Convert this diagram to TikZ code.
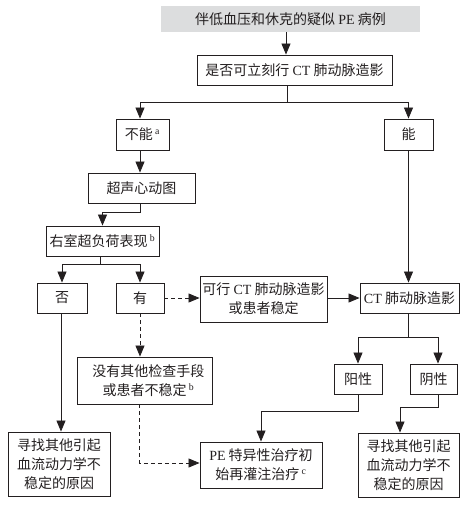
\documentclass[tikz,border=0pt]{standalone}
\usepackage{fontspec}
\setmainfont{Noto Sans CJK SC}
\newfontfamily\lat{Liberation Serif}
\usetikzlibrary{arrows.meta}
\definecolor{topgray}{RGB}{220,221,222}
\definecolor{ink}{RGB}{35,31,32}
\newcommand{\supl}[1]{\textsuperscript{\lat #1}}
\begin{document}
\begin{tikzpicture}[x=1pt,y=-1pt,
  box/.style={draw=ink,line width=0.9pt,inner sep=0pt,align=center,text=ink,
    font=\fontsize{14}{19}\selectfont},
  ln/.style={draw=ink,line width=0.8pt},
  arr/.style={ln,-{Triangle[length=11pt,width=9pt]}},
  darr/.style={arr,dash pattern=on 4pt off 3pt}]
\useasboundingbox (0,0) rectangle (470,507);
% nodes
\node[box,draw=none,fill=topgray,minimum width=259pt,minimum height=26pt] (top) at (290.5,19) {伴低血压和休克的疑似 {\lat PE} 病例};
\node[box,minimum width=195pt,minimum height=30pt] (q) at (294.5,70) {是否可立刻行 {\lat CT} 肺动脉造影};
\node[box,minimum width=53pt,minimum height=31pt] (no) at (142.5,134.5) {不能\,\supl{a}};
\node[box,minimum width=49pt,minimum height=31pt] (yes) at (408.5,134.5) {能};
\node[box,minimum width=107pt,minimum height=30pt] (echo) at (141.5,188) {超声心动图};
\node[box,minimum width=113pt,minimum height=30pt] (rv) at (102.5,241) {右室超负荷表现\,\supl{b}};
\node[box,minimum width=50pt,minimum height=30pt] (fou) at (62,298) {否};
\node[box,minimum width=48pt,minimum height=30pt] (you) at (140,298) {有};
\node[box,minimum width=127pt,minimum height=46pt] (kx) at (263.5,299) {可行 {\lat CT} 肺动脉造影\\或患者稳定};
\node[box,minimum width=99pt,minimum height=30pt] (ct) at (409.5,298) {{\lat CT} 肺动脉造影};
\node[box,minimum width=48pt,minimum height=30pt] (yang) at (358,379) {阳性};
\node[box,minimum width=47pt,minimum height=30pt] (yin) at (433.5,379) {阴性};
\node[box,minimum width=135pt,minimum height=47pt] (my) at (144.5,380.5) {\hspace*{8pt}没有其他检查手段\\\hspace*{8pt}或患者不稳定\,\supl{b}};
\node[box,minimum width=122pt,minimum height=46pt] (pe) at (261,465) {{\lat PE} 特异性治疗初\\始再灌注治疗\,\supl{c}};
\node[box,minimum width=102pt,minimum height=64pt] (findL) at (59,464) {寻找其他引起\\血流动力学不\\稳定的原因};
\node[box,minimum width=101pt,minimum height=64pt] (findR) at (408.5,465) {寻找其他引起\\血流动力学不\\稳定的原因};
% connectors
\draw[arr] ([xshift=-4.5pt]top.south) -- ([xshift=-4.5pt]top.south |- q.north);
\coordinate (j1) at ([xshift=-7.5pt,yshift=-17pt]q.south);
\draw[ln] ([xshift=-7.5pt]q.south) -- (j1);
\draw[arr] (j1) -| ([xshift=-2.5pt]no.north);
\draw[arr] (j1) -| (yes.north);
\draw[arr] ([xshift=-2.5pt]no.south) -- ([xshift=-2.5pt]no.south |- echo.north);
\draw[arr] ([xshift=-1.5pt]echo.south) -- ++(0,9) -| (rv.north);
\coordinate (j2) at ([xshift=-2.5pt,yshift=-8pt]rv.south);
\draw[ln] ([xshift=-2.5pt]rv.south) -- (j2);
\draw[arr] (j2) -| (fou.north);
\draw[arr] (j2) -| (you.north);
\draw[darr] (you.east) -- (kx.west |- you.east);
\draw[arr] (kx.east |- ct.west) -- (ct.west);
\draw[arr] (yes.south) -- (yes.south |- ct.north);
\draw[darr] (you.south) -- (you.south |- my.north);
\draw[darr] ([xshift=-5pt]my.south) |- ([yshift=2pt]pe.west);
\coordinate (j3) at ([xshift=-1.5pt,yshift=-24pt]ct.south);
\draw[ln] ([xshift=-1.5pt]ct.south) -- (j3);
\draw[arr] (j3) -| (yang.north);
\draw[arr] (j3) -| ([xshift=4.5pt]yin.north);
\draw[arr] (yang.south) -- ++(0,17) -| (pe.north);
\draw[arr] ([xshift=4.5pt]yin.south) -- ++(0,13) -| ([xshift=-8.5pt]findR.north);
\draw[arr] ([xshift=-1pt]fou.south) -- ([xshift=-1pt]fou.south |- findL.north);
\end{tikzpicture}
\end{document}
